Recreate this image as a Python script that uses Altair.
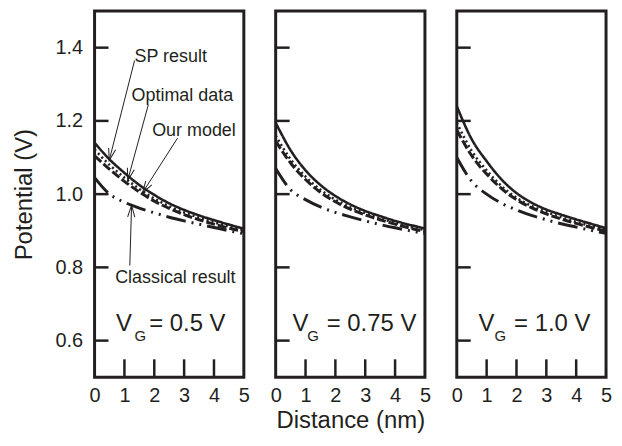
import math
import altair as alt
import pandas as pd

# ---------------- data ----------------
dist = [0, 0.5, 1, 1.5, 2, 2.5, 3, 3.5, 4, 4.5, 5]
series_names = ["SP result", "Optimal data", "Our model", "Classical result"]

vg05_sp = [1.140, 1.095, 1.058, 1.025, 0.998, 0.975, 0.957, 0.942, 0.929, 0.917, 0.906]
vg05_opt = [1.122, 1.080, 1.045, 1.014, 0.988, 0.967, 0.950, 0.936, 0.923, 0.912, 0.902]
vg05_our = [1.105, 1.068, 1.035, 1.006, 0.981, 0.961, 0.944, 0.930, 0.918, 0.907, 0.898]
vg05_cls = [1.045, 1.000, 0.978, 0.962, 0.949, 0.937, 0.927, 0.918, 0.909, 0.900, 0.892]

vg075_sp = [1.195, 1.120, 1.065, 1.025, 0.995, 0.972, 0.954, 0.940, 0.927, 0.916, 0.906]
vg075_opt = [1.160, 1.095, 1.048, 1.012, 0.985, 0.964, 0.948, 0.934, 0.922, 0.911, 0.902]
vg075_our = [1.145, 1.085, 1.040, 1.005, 0.979, 0.959, 0.943, 0.930, 0.918, 0.907, 0.898]
vg075_cls = [1.070, 1.012, 0.985, 0.965, 0.950, 0.938, 0.927, 0.917, 0.908, 0.900, 0.892]

vg10_sp = [1.240, 1.150, 1.090, 1.040, 1.003, 0.977, 0.958, 0.944, 0.931, 0.919, 0.907]
vg10_opt = [1.195, 1.118, 1.065, 1.022, 0.990, 0.968, 0.951, 0.937, 0.924, 0.913, 0.903]
vg10_our = [1.175, 1.105, 1.055, 1.015, 0.985, 0.963, 0.946, 0.932, 0.920, 0.909, 0.899]
vg10_cls = [1.100, 1.035, 1.000, 0.975, 0.957, 0.942, 0.930, 0.919, 0.910, 0.901, 0.893]

panel_labels = ["0.5", "0.75", "1.0"]
panel_series = [
    [vg05_sp, vg05_opt, vg05_our, vg05_cls],
    [vg075_sp, vg075_opt, vg075_our, vg075_cls],
    [vg10_sp, vg10_opt, vg10_our, vg10_cls],
]

x_ticks = [0, 1, 2, 3, 4, 5]
x_inner_ticks = [1, 2, 3, 4]
y_ticks = [0.6, 0.8, 1.0, 1.2, 1.4]

# annotations (panel 1) : label, text x, text y, arrow start, arrow tip
ann_labels = ["SP result", "Optimal data", "Our model", "Classical result"]
ann_text_x = [1.34, 1.24, 1.93, 0.69]
ann_text_y = [1.362, 1.255, 1.159, 0.756]
arrow_x1 = [1.34, 1.80, 2.78, 1.18]
arrow_y1 = [1.365, 1.244, 1.153, 0.805]
arrow_x2 = [0.49, 1.11, 1.60, 1.24]
arrow_y2 = [1.092, 1.038, 1.003, 0.970]

# V_G label positions per panel
vg_v_x = [0.72, 0.56, 0.73]
vg_g_x = [1.34, 1.06, 1.26]
vg_eq_x = [1.83, 1.71, 1.92]

# ---------------- styling ----------------
INK = "#231f20"
FONT = "Liberation Sans"
W, H = 150, 368
XMAX, YMIN, YMAX = 5, 0.5, 1.5
dash_styles = {
    "SP result": ([1, 0], 2.6),
    "Optimal data": ([2, 3], 2.6),
    "Our model": ([9, 3], 3.0),
    "Classical result": ([20, 6, 2, 6, 2, 6], 3.0),
}
xs = alt.Scale(domain=[0, XMAX], nice=False)
ys = alt.Scale(domain=[YMIN, YMAX], nice=False)
px_per_x = W / XMAX
px_per_y = H / (YMAX - YMIN)


def make_panel(i):
    layers = []
    first = i == 0
    middle = i == 1
    x_axis = alt.Axis(values=x_ticks, format="d", tickSize=0, domain=False, grid=False,
                      labelPadding=8, titlePadding=4, labelFontSize=20,
                      labelOverlap=False, labelFlush=False,
                      titleFontSize=24, titleFontWeight="normal")
    y_axis = alt.Axis(values=y_ticks, format=".1f", tickSize=0, domain=False, grid=False,
                      labelPadding=12, titlePadding=19, labelFontSize=20,
                      labelOverlap=False, labelFlush=False,
                      titleFontSize=24, titleFontWeight="normal")
    x_title = "Distance (nm)" if middle else None

    def X(field):
        return alt.X(field, scale=xs, axis=x_axis, title=x_title)

    def Y(field):
        if first:
            return alt.Y(field, scale=ys, axis=y_axis, title="Potential (V)")
        return alt.Y(field, scale=ys, axis=None)

    for name, vals in zip(series_names, panel_series[i]):
        df = pd.DataFrame({"x": dist, "v": vals, "series": name})
        dash, sw = dash_styles[name]
        layers.append(
            alt.Chart(df).mark_line(color=INK, strokeWidth=sw, strokeDash=dash,
                                    interpolate="monotone", clip=True)
            .encode(x=X("x:Q"), y=Y("v:Q"))
        )

    # inward ticks
    yt = pd.DataFrame({"y": y_ticks, "x0": 0.0, "x1": 14 / px_per_x})
    layers.append(alt.Chart(yt).mark_rule(color=INK, strokeWidth=2.5)
                  .encode(x=X("x0:Q"), x2="x1:Q", y=Y("y:Q")))
    xt = pd.DataFrame({"x": x_inner_ticks, "y0": YMIN, "y1": YMIN + 18 / px_per_y})
    layers.append(alt.Chart(xt).mark_rule(color=INK, strokeWidth=2.5)
                  .encode(x=X("x:Q"), y=Y("y0:Q"), y2="y1:Q"))

    # V_G label
    vdf = pd.DataFrame({"x": [vg_v_x[i]], "y": [0.625], "t": ["V"]})
    gdf = pd.DataFrame({"x": [vg_g_x[i]], "y": [0.600], "t": ["G"]})
    edf = pd.DataFrame({"x": [vg_eq_x[i]], "y": [0.625], "t": ["= " + panel_labels[i] + " V"]})
    for d, fs in ((vdf, 24), (gdf, 15), (edf, 24)):
        layers.append(alt.Chart(d).mark_text(align="left", baseline="alphabetic", font=FONT,
                                             fontSize=fs, color=INK)
                      .encode(x=X("x:Q"), y=Y("y:Q"), text="t:N"))

    if first:
        tdf = pd.DataFrame({"x": ann_text_x, "y": ann_text_y, "t": ann_labels})
        layers.append(alt.Chart(tdf).mark_text(align="left", baseline="alphabetic", font=FONT,
                                               fontSize=18, color=INK)
                      .encode(x=X("x:Q"), y=Y("y:Q"), text="t:N"))
        angles = []
        for a, b, c, d in zip(arrow_x1, arrow_y1, arrow_x2, arrow_y2):
            dx = (c - a) * px_per_x
            dy = -(d - b) * px_per_y
            angles.append(math.degrees(math.atan2(dx, -dy)) % 360)
        adf = pd.DataFrame({"x1": arrow_x1, "y1": arrow_y1, "x2": arrow_x2, "y2": arrow_y2,
                            "ang": angles})
        layers.append(alt.Chart(adf).mark_rule(color=INK, strokeWidth=1)
                      .encode(x=X("x1:Q"), y=Y("y1:Q"), x2="x2:Q", y2="y2:Q"))
        layers.append(alt.Chart(adf).mark_point(shape="M-0.3,1L0,0L0.3,1", size=576,
                                                filled=False, color=INK, strokeWidth=1,
                                                opacity=1)
                      .encode(x=X("x2:Q"), y=Y("y2:Q"),
                              angle=alt.Angle("ang:Q", scale=None)))

    return alt.layer(*layers).properties(width=W, height=H)


chart = (
    alt.hconcat(*[make_panel(i) for i in range(3)], spacing=32, bounds="flush")
    .properties(padding={"left": 2, "top": 0, "right": 0, "bottom": 0}, background="white")
    .configure_view(stroke=INK, strokeWidth=3)
    .configure_axis(labelFont=FONT, titleFont=FONT, labelColor=INK, titleColor=INK)
)

chart.save("out.html", embed_options={"renderer": "svg", "actions": False})
